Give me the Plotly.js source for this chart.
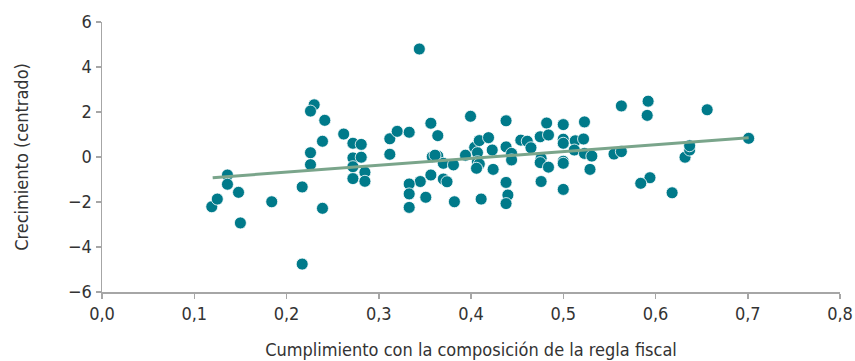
<!DOCTYPE html>
<html>
<head>
<meta charset="utf-8">
<script src="https://cdn.plot.ly/plotly-3.0.1.min.js"></script>
<style>html,body{margin:0;padding:0;background:#fff}#chart{width:855px;height:361px}</style>
</head>
<body>
<div id="chart"></div>
<script>
// Scatter data: compliance with fiscal rule composition (x) vs centred growth (y)
const cumplimiento = [
  0.119,0.125,0.136,0.136,0.148,0.150,0.184,0.217,0.217,0.226,
  0.226,0.230,0.226,0.2415,0.239,0.239,0.262,0.272,0.281,0.272,
  0.281,0.272,0.285,0.272,0.285,0.312,0.320,0.333,0.312,0.3565,
  0.364,0.358,0.364,0.370,0.3565,0.345,0.333,0.333,0.333,0.351,
  0.370,0.374,0.344,0.381,0.382,0.3995,0.394,0.404,0.409,0.419,
  0.423,0.407,0.407,0.409,0.406,0.424,0.411,0.438,0.438,0.444,
  0.444,0.438,0.440,0.438,0.454,0.461,0.465,0.475,0.482,0.484,
  0.476,0.475,0.484,0.476,0.500,0.500,0.500,0.500,0.500,0.500,
  0.523,0.513,0.522,0.512,0.523,0.531,0.529,0.563,0.592,0.591,
  0.656,0.555,0.563,0.594,0.584,0.618,0.632,0.637,0.637,0.701,
  0.361
];
const crecimiento = [
  -2.21,-1.87,-0.80,-1.21,-1.57,-2.93,-1.99,-1.33,-4.76,0.19,
  -0.34,2.32,2.04,1.63,0.70,-2.28,1.02,0.61,0.56,-0.04,
  -0.01,-0.43,-0.68,-0.96,-1.08,0.81,1.14,1.10,0.12,1.50,
  0.95,0.01,0.04,-0.28,-0.80,-1.09,-1.20,-1.64,-2.24,-1.79,
  -0.98,-1.10,4.80,-0.35,-1.99,1.81,0.08,0.43,0.73,0.86,
  0.31,0.19,-0.21,-0.31,-0.50,-0.55,-1.87,1.61,0.45,0.16,
  -0.13,-1.13,-1.69,-2.07,0.75,0.70,0.41,0.90,1.51,0.98,
  -0.06,-0.25,-0.45,-1.09,1.44,0.79,0.61,-0.19,-0.28,-1.44,
  1.56,0.72,0.80,0.31,0.16,0.04,-0.55,2.27,2.48,1.85,
  2.10,0.13,0.24,-0.92,-1.17,-1.59,-0.01,0.31,0.50,0.83,
  0.08
];
// Fitted trend line end points
const tendenciaX = [0.120, 0.701];
const tendenciaY = [-0.92, 0.86];

const xTicks = [0,0.1,0.2,0.3,0.4,0.5,0.6,0.7,0.8];
const xTickText = ['0,0','0,1','0,2','0,3','0,4','0,5','0,6','0,7','0,8'];
const yTicks = [-6,-4,-2,0,2,4,6];
const yTickText = ['\u22126','\u22124','\u22122','0','2','4','6'];

const FONT = '"Liberation Sans Narrow", "Arial Narrow", "DejaVu Sans Condensed", sans-serif';

const traces = [
  {
    x: cumplimiento, y: crecimiento, type: 'scatter', mode: 'markers',
    marker: {color: '#007a8a', size: 12, line: {color: '#ffffff', width: 0.8}},
    hoverinfo: 'x+y', showlegend: false
  },
  {
    x: tendenciaX, y: tendenciaY, type: 'scatter', mode: 'lines',
    line: {color: '#7aa58b', width: 3}, showlegend: false
  }
];

const layout = {
  width: 855, height: 361,
  margin: {l: 102, r: 15, t: 22, b: 69, pad: 0},
  paper_bgcolor: '#ffffff', plot_bgcolor: '#ffffff',
  separators: ',.',
  font: {family: FONT, size: 18, color: '#333333'},
  xaxis: {
    range: [0, 0.8], tickvals: xTicks, ticktext: xTickText,
    showgrid: false, zeroline: false, showline: true, linecolor: '#a6a6a6', linewidth: 1.5,
    ticks: 'outside', ticklen: 5, tickcolor: '#a6a6a6', tickwidth: 1.5,
    tickfont: {family: FONT, size: 18, color: '#333333'},
    title: {text: 'Cumplimiento con la composición de la regla fiscal', font: {family: FONT, size: 18, color: '#333333'}, standoff: 20},
    fixedrange: true
  },
  yaxis: {
    range: [-6, 6], tickvals: yTicks, ticktext: yTickText,
    showgrid: false, zeroline: false, showline: true, linecolor: '#a6a6a6', linewidth: 1.5,
    ticks: 'outside', ticklen: 5, tickcolor: '#a6a6a6', tickwidth: 1.5,
    tickfont: {family: FONT, size: 18, color: '#333333'},
    title: {text: 'Crecimiento (centrado)', font: {family: FONT, size: 18, color: '#333333'}, standoff: 34},
    fixedrange: true
  }
};

Plotly.newPlot('chart', traces, layout, {displayModeBar: false, staticPlot: true});
</script>
</body>
</html>
